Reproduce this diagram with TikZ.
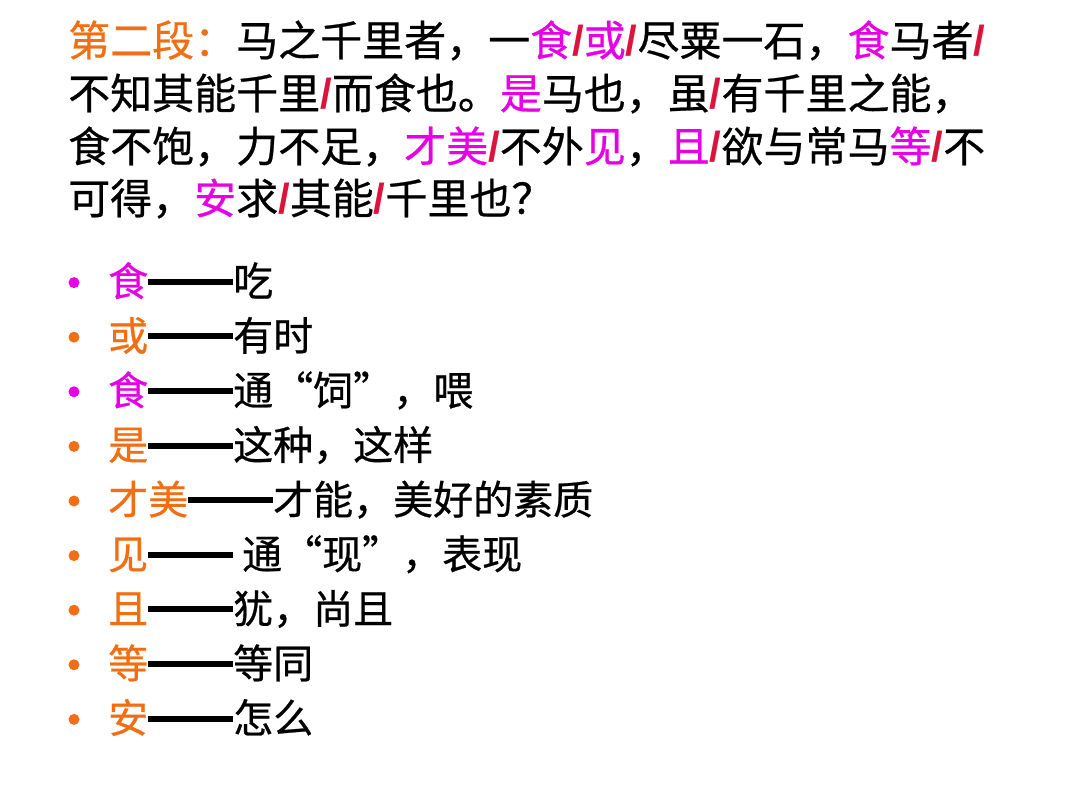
\documentclass[tikz,border=0pt]{standalone}
\usepackage{fontspec}
\setmainfont{Noto Sans CJK SC}[FakeBold=0.6]
\newfontfamily\slashfont{Liberation Sans}
\usetikzlibrary{positioning}
\definecolor{keymag}{RGB}{230,0,230}
\definecolor{keyorg}{RGB}{240,110,20}
\definecolor{slashred}{RGB}{220,20,60}
\newcommand{\sep}{{\slashfont\bfseries\color{slashred}/}}
\newcommand{\km}[1]{\textcolor{keymag}{#1}}
\newcommand{\ko}[1]{\textcolor{keyorg}{#1}}
\newcommand{\dashbar}{\rule[0.28em]{85pt}{6pt}}
\tikzset{
  para/.style={anchor=base west, inner sep=0pt, font=\fontsize{42}{50}\selectfont},
  item/.style={anchor=base west, inner sep=0pt, font=\fontsize{40}{48}\selectfont},
  dot/.style={circle, fill=#1, inner sep=0pt, minimum size=11pt}
}
\begin{document}
\begin{tikzpicture}[x=1pt,y=-1pt]
    \useasboundingbox (0,0) rectangle (1080,810);
    % paragraph
    \node[para] (l1) at (68,56) {\ko{第二段：}马之千里者，一\km{食}\sep\km{或}\sep 尽粟一石，\km{食}马者\sep};
    \node[para] (l2) at (68,109) {不知其能千里\sep 而食也。\km{是}马也，虽\sep 有千里之能，};
    \node[para] (l3) at (68,162) {食不饱，力不足，\km{才美}\sep 不外\km{见}，\km{且}\sep 欲与常马\km{等}\sep 不};
    \node[para] (l4) at (68,214) {可得，\km{安}求\sep 其能\sep 千里也？};
    % list
    \foreach \key/\txt/\col [count=\i] in {
        食/吃/keymag, 或/有时/keyorg, 食/通“饲”，喂/keymag,
        是/这种，这样/keyorg, 才美/才能，美好的素质/keyorg,
        见/\ 通“现”，表现/keyorg, 且/犹，尚且/keyorg,
        等/等同/keyorg, 安/怎么/keyorg} {
        \node[dot=\col] (b\i) at (74,{228+54.6*\i}) {};
        \node[item] (w\i) at (108,{296+54.6*(\i-1)}) {\textcolor{\col}{\key}\dashbar\txt};
    }
\end{tikzpicture}
\end{document}
